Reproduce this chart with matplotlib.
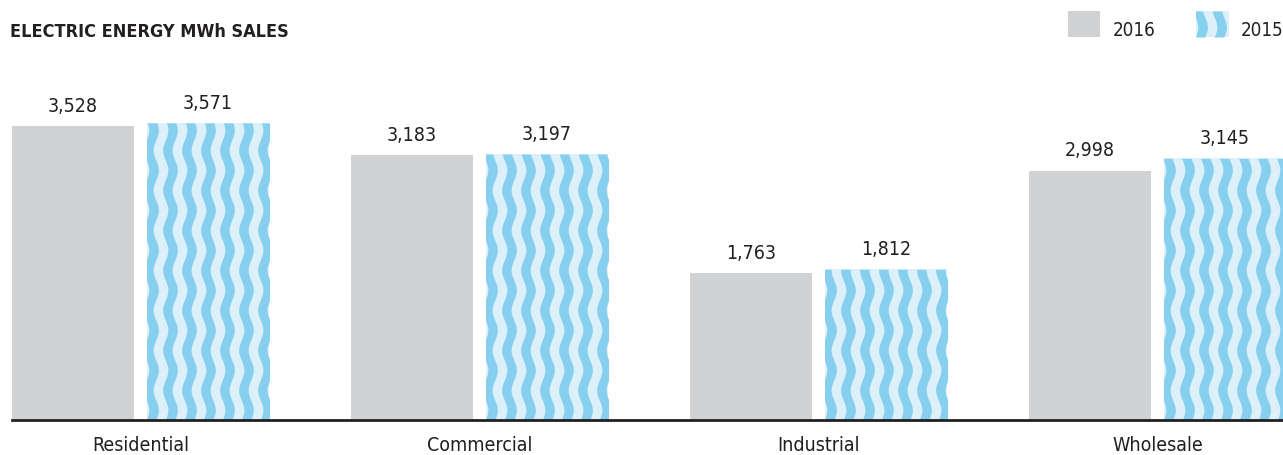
import numpy as np
import matplotlib.pyplot as plt

categories = ['Residential', 'Commercial', 'Industrial', 'Wholesale']
sales_2016 = [3528, 3183, 1763, 2998]
sales_2015 = [3571, 3197, 1812, 3145]
series_labels = ['2016', '2015']

GRAY = '#d1d2d4'
PALE = '#dcf0fa'
BLUE = '#87cfee'
INK = '#231f20'

plt.rcParams['font.family'] = ['DejaVu Sans']
plt.rcParams['font.stretch'] = 'condensed'

W, H = 1283, 456
fig = plt.figure(figsize=(W / 100, H / 100), dpi=100)


def wave_stripes(ax, x0, x1, y0, y1, sx, sy, clip):
  # sx, sy are data units per pixel, so the waves look the same everywhere
  period, width, amp, wl = 19.0, 9.5, 2.6, 40.0
  yy = np.linspace(y0, y1, 300)
  ypx = yy / sy
  n = int((x1 - x0) / sx / period) + 3
  for k in range(-1, n):
    c = x0 + (k * period + 4 + amp * np.sin(2 * np.pi * ypx / wl)) * sx
    f = ax.fill_betweenx(yy, c - width / 2 * sx, c + width / 2 * sx,
                         color=BLUE, lw=0, zorder=3)
    f.set_clip_path(clip)


# main axes, placed in pixels
ax = fig.add_axes([12 / W, 35 / H, 1271 / W, 361 / H])
px_per_x = 339.0
ymax = 361 / 0.0832
ax.set_xlim((12 - 140.5) / px_per_x, (1283 - 140.5) / px_per_x)
ax.set_ylim(0, ymax)
sx = 1 / px_per_x
sy = ymax / 361

x = np.arange(len(categories))
bw = 122 / px_per_x
off = 67.5 / px_per_x

ax.bar(x - off, sales_2016, width=bw, color=GRAY, zorder=2)
blue_bars = ax.bar(x + off, sales_2015, width=bw, color=PALE, zorder=2)
for b in blue_bars:
  wave_stripes(ax, b.get_x(), b.get_x() + b.get_width(), 0, b.get_height(),
               sx, sy, b)

for xi, v in zip(x - off, sales_2016):
  ax.annotate(f'{v:,}', (xi, v), xytext=(0, 8), textcoords='offset points',
              ha='center', va='bottom', fontsize=14, color=INK)
for xi, v in zip(x + off, sales_2015):
  ax.annotate(f'{v:,}', (xi, v), xytext=(0, 8), textcoords='offset points',
              ha='center', va='bottom', fontsize=14, color=INK)

ax.set_xticks(x)
ax.set_xticklabels(categories, fontsize=14, color=INK)
ax.tick_params(axis='x', length=0, pad=11)
ax.set_yticks([])
for s in ['top', 'left', 'right']:
  ax.spines[s].set_visible(False)
ax.spines['bottom'].set_color(INK)
ax.spines['bottom'].set_linewidth(2)
ax.spines['bottom'].set_zorder(5)

# title
fig.text(10 / W, 1 - 32 / H, 'ELECTRIC ENERGY MWh SALES', fontsize=13,
         fontweight='bold', color=INK, va='center', ha='left')

# legend
lg = fig.add_axes([1068 / W, 1 - 38 / H, 32 / W, 26 / H])
lg.set_facecolor(GRAY)
lg.set_xticks([])
lg.set_yticks([])
for s in lg.spines.values():
  s.set_visible(False)
fig.text(1113 / W, 1 - 31 / H, series_labels[0], fontsize=13.5, color=INK,
         va='center', ha='left')

lg2 = fig.add_axes([1196 / W, 1 - 38 / H, 33 / W, 26 / H])
lg2.set_xlim(0, 33)
lg2.set_ylim(0, 26)
lg2.set_facecolor(PALE)
wave_stripes(lg2, 0, 33, 0, 26, 1, 1, lg2.patch)
lg2.set_xticks([])
lg2.set_yticks([])
for s in lg2.spines.values():
  s.set_visible(False)
fig.text(1241 / W, 1 - 31 / H, series_labels[1], fontsize=13.5, color=INK,
         va='center', ha='left')

fig.savefig('out.png', dpi=100)
